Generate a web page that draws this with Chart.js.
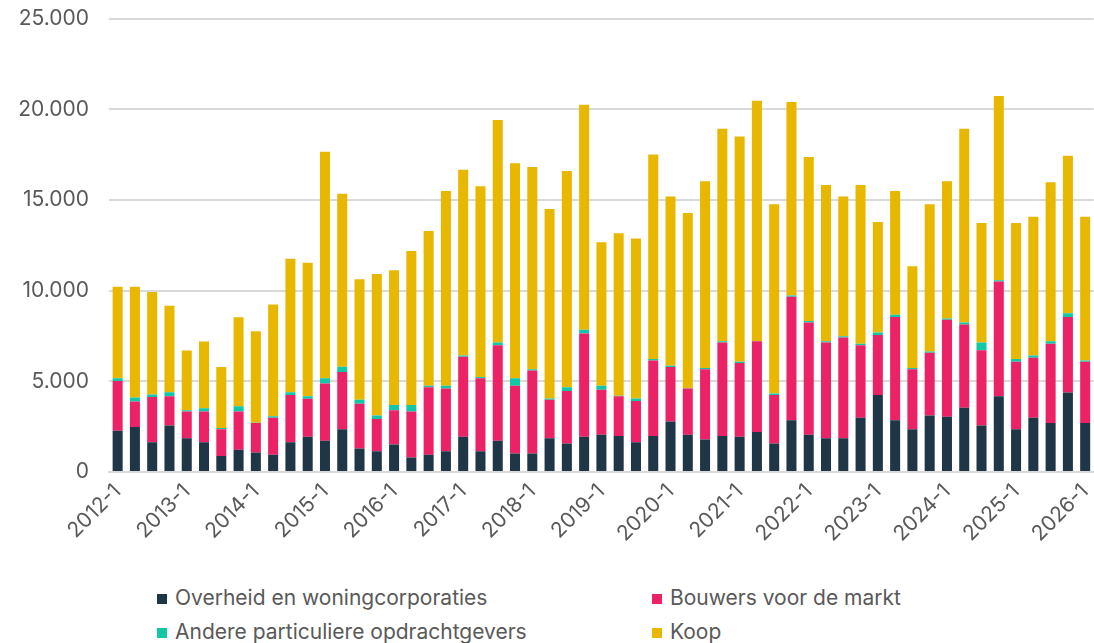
<!DOCTYPE html>
<html>
<head>
<meta charset="utf-8">
<script src="https://cdn.jsdelivr.net/npm/chart.js@4/dist/chart.umd.min.js"></script>
<style>
  html, body { margin: 0; padding: 0; background: #ffffff; }
  body { width: 1094px; height: 643px; position: relative; overflow: hidden; font-family: Inter, "Noto Sans", sans-serif; }
  #wrap { position: absolute; left: 0; top: -14px; width: 1110px; height: 594px; }
  .lg { position: absolute; font-size: 21px; color: #595959; white-space: nowrap; line-height: 24px; }
  .lg span.sw { display: inline-block; width: 10px; height: 10px; margin-right: 8px; vertical-align: 1px; }
</style>
</head>
<body>
<div id="wrap"><canvas id="c"></canvas></div>
<div id="legend"></div>
<script>
const categories = [
  "2012-1","2012-2","2012-3","2012-4","2013-1","2013-2","2013-3","2013-4",
  "2014-1","2014-2","2014-3","2014-4","2015-1","2015-2","2015-3","2015-4",
  "2016-1","2016-2","2016-3","2016-4","2017-1","2017-2","2017-3","2017-4",
  "2018-1","2018-2","2018-3","2018-4","2019-1","2019-2","2019-3","2019-4",
  "2020-1","2020-2","2020-3","2020-4","2021-1","2021-2","2021-3","2021-4",
  "2022-1","2022-2","2022-3","2022-4","2023-1","2023-2","2023-3","2023-4",
  "2024-1","2024-2","2024-3","2024-4","2025-1","2025-2","2025-3","2025-4",
  "2026-1"
];
const tickLabels = ["2012-1","2013-1","2014-1","2015-1","2016-1","2017-1","2018-1","2019-1","2020-1","2021-1","2022-1","2023-1","2024-1","2025-1","2026-1"];

const overheid = [2280,2480,1640,2560,1860,1640,880,1220,1080,950,
  1640,1940,1720,2360,1300,1150,1520,800,950,1150,
  1940,1150,1720,1020,1020,1860,1570,1940,2060,1990,
  1640,1990,2780,2060,1790,1990,1940,2210,1570,2850,
  2060,1860,1860,2990,4250,2850,2360,3120,3050,3540,
  2560,4180,2360,2990,2700,4380,2700];
const bouwers = [2740,1410,2490,1620,1480,1700,1480,2120,1620,2040,
  2610,2100,3160,3150,2460,1770,1890,2540,3720,3450,
  4420,4020,5270,3730,4570,2120,2890,5690,2470,2190,
  2270,4160,3010,2540,3870,5150,4070,5000,2680,6810,
  6190,5280,5550,4000,3310,5700,3300,3450,5350,4590,
  4160,6320,3720,3310,4370,4170,3380];
const andere = [150,220,140,220,70,170,70,280,20,80,
  150,140,290,300,220,200,280,350,80,150,
  70,70,150,420,70,70,210,220,220,20,
  140,80,70,20,70,70,70,20,80,70,
  80,70,80,80,130,120,70,80,70,120,
  420,70,150,130,140,200,70];
const koop = [5040,6100,5660,4770,3290,3680,3360,4910,5040,6170,
  7360,7360,12490,9530,6650,7800,7430,8490,8540,10740,
  10240,10520,12270,11850,11160,10450,11930,12400,7920,8970,
  8820,11280,9330,9660,10300,11710,12420,13240,10440,10670,
  9040,8620,7700,8760,6100,6820,5610,8120,7560,10670,
  6590,10160,7500,7650,8770,8690,7930];

const seriesNames = ["Overheid en woningcorporaties","Bouwers voor de markt","Andere particuliere opdrachtgevers","Koop"];
const seriesColors = ["#1f3646","#ec2266","#12c6a6","#e8b700"];
const seriesData = [overheid, bouwers, andere, koop];

function fmt(v) {
  return String(Math.round(v)).replace(/\B(?=(\d{3})+(?!\d))/g, ".");
}

const FONT = "Inter, 'Noto Sans', sans-serif";
const TXT = "#595959";

new Chart(document.getElementById("c"), {
  type: "bar",
  data: {
    labels: categories,
    datasets: seriesData.map((d, i) => ({
      label: seriesNames[i],
      data: d,
      backgroundColor: seriesColors[i],
      borderWidth: 0,
      barPercentage: 0.58,
      categoryPercentage: 1.0
    }))
  },
  options: {
    responsive: true,
    maintainAspectRatio: false,
    animation: false,
    layout: { padding: { top: 6, right: 0, left: 0, bottom: 0 } },
    plugins: { legend: { display: false }, tooltip: { enabled: false } },
    scales: {
      x: {
        stacked: true,
        grid: { display: false, drawTicks: false },
        border: { display: true, color: "#d9d9d9", width: 2 },
        ticks: {
          autoSkip: false,
          maxRotation: 45,
          minRotation: 45,
          padding: 7,
          color: TXT,
          font: { family: FONT, size: 21 },
          callback: function (val, idx) {
            const lab = categories[idx];
            return tickLabels.includes(lab) ? lab : "";
          }
        },
        afterFit: function (s) { s.height = 108; }
      },
      y: {
        stacked: true,
        min: 0,
        max: 25000,
        grid: { color: "#d9d9d9", lineWidth: 2, drawTicks: false },
        border: { display: false },
        ticks: {
          stepSize: 5000,
          padding: 20,
          color: TXT,
          font: { family: FONT, size: 21 },
          callback: function (v) { return fmt(v); }
        },
        afterFit: function (s) { s.width = 109; }
      }
    }
  }
});

// HTML legend (two columns)
const legendPos = [
  { left: 157, top: 586 },
  { left: 652, top: 586 },
  { left: 157, top: 620 },
  { left: 652, top: 620 }
];
const lg = document.getElementById("legend");
seriesNames.forEach((n, i) => {
  const d = document.createElement("div");
  d.className = "lg";
  d.style.left = legendPos[i].left + "px";
  d.style.top = legendPos[i].top + "px";
  const sw = document.createElement("span");
  sw.className = "sw";
  sw.style.background = seriesColors[i];
  d.appendChild(sw);
  d.appendChild(document.createTextNode(n));
  lg.appendChild(d);
});
</script>
</body>
</html>
